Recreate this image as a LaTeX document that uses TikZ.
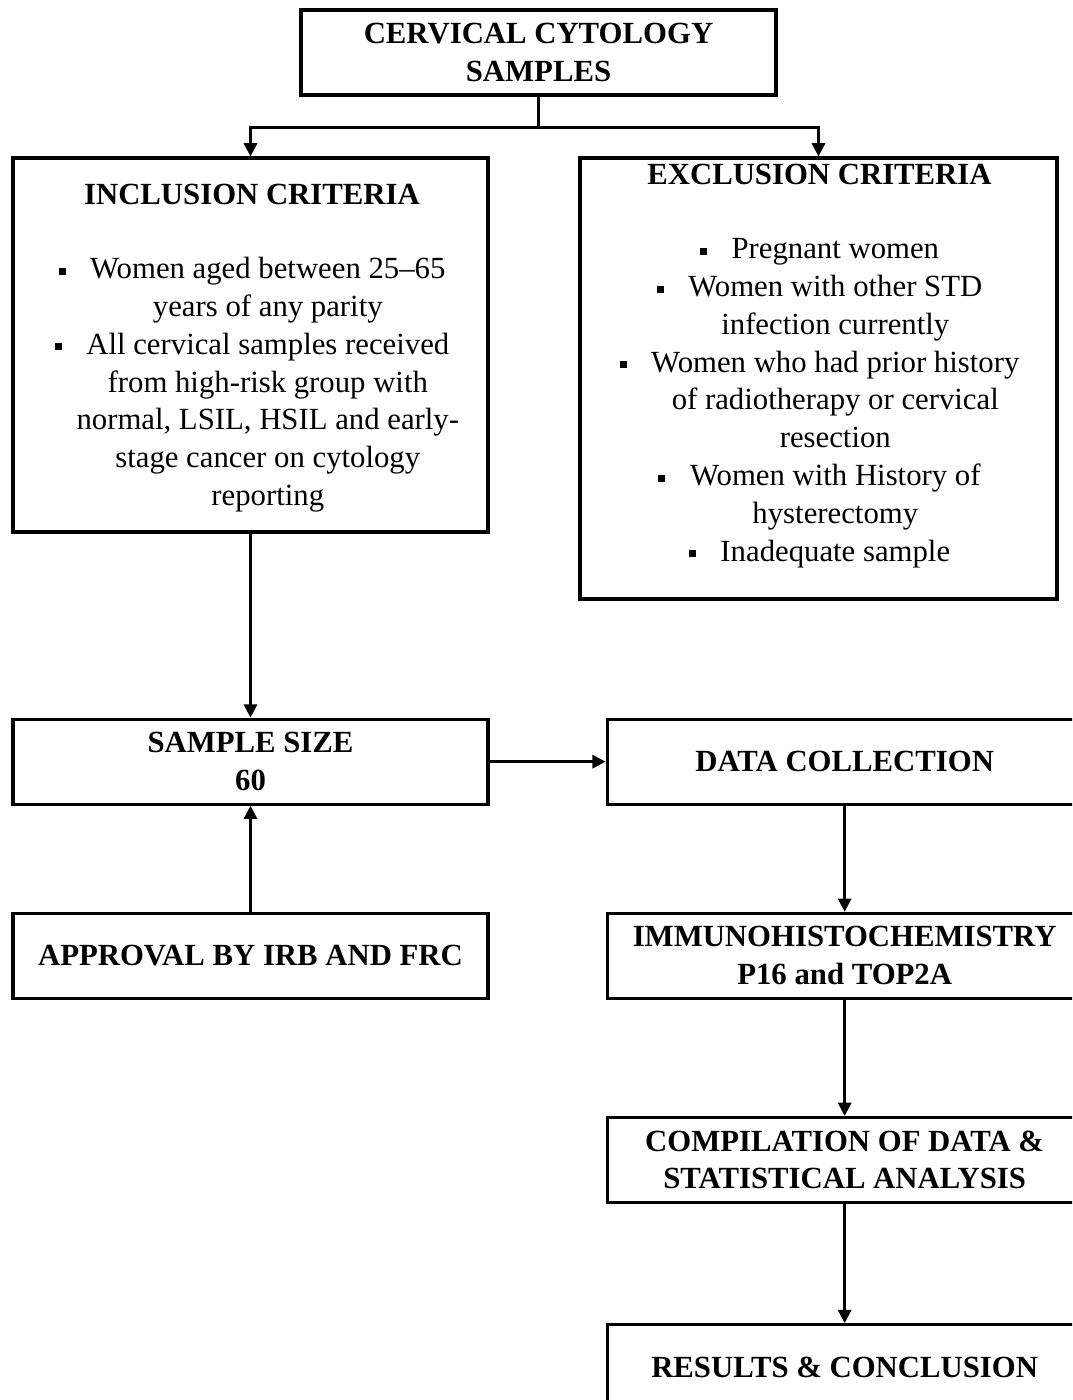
\documentclass[tikz,border=0pt]{standalone}
\usepackage{fontspec}
\setmainfont{Liberation Serif}
\usetikzlibrary{positioning,arrows.meta}
\newcommand{\sqbul}{\rule[0.28ex]{4pt}{4pt}\hspace{14pt}}
\newcommand{\sqgap}{\hphantom{\sqbul}}
\begin{document}
\begin{tikzpicture}[
    box/.style={draw, line width=1.8pt, minimum width=9.5cm, minimum height=1.7cm, inner sep=0pt, align=center, font=\bfseries\fontsize{17.5}{21.5}\selectfont},
    listtxt/.style={inner sep=0pt, align=center, anchor=north, font=\fontsize{17.5}{21.5}\selectfont},
    arr/.style={line width=1.4pt, -{Triangle[length=7.5pt,width=7.5pt]}}]
        \useasboundingbox (0,0) rectangle (21.44,-28);
        \clip (0,0) rectangle (21.44,-28);

        % Bloki
        \node[box] (cyto) at (10.77,-1.05) {CERVICAL CYTOLOGY\\SAMPLES};
        \node[box, minimum height=7.48cm] (incl) at (5.01,-6.9) {};
        \node[box, minimum width=9.54cm, minimum height=8.82cm] (excl) at (16.37,-7.57) {};
        \node[box, below=3.68cm of incl] (size) {SAMPLE SIZE\\60};
        \node[box, right=2.32cm of size] (data) {DATA COLLECTION};
        \node[box, below=2.12cm of size] (irb) {APPROVAL BY IRB AND FRC};
        \node[box, below=2.12cm of data] (ihc) {IMMUNOHISTOCHEMISTRY\\P16 and TOP2A};
        \node[box, below=2.32cm of ihc] (stat) {COMPILATION OF DATA \&\\STATISTICAL ANALYSIS};
        \node[box, below=2.38cm of stat] (res) {RESULTS \& CONCLUSION};

        % Kryteria
        \node[listtxt] (incltxt) at ([xshift=0.03cm, yshift=-0.54cm]incl.north) {\textbf{INCLUSION CRITERIA}\\[21pt]
            \sqbul Women aged between 25–65\\
            \sqgap years of any parity\\
            \sqbul All cervical samples received\\
            \sqgap from high-risk group with\\
            \sqgap normal, LSIL, HSIL and early-\\
            \sqgap stage cancer on cytology\\
            \sqgap reporting};
        \node[listtxt] (excltxt) at ([xshift=0.02cm, yshift=-0.14cm]excl.north) {\textbf{EXCLUSION CRITERIA}\\[21pt]
            \sqbul Pregnant women\\
            \sqbul Women with other STD\\
            \sqgap infection currently\\
            \sqbul Women who had prior history\\
            \sqgap of radiotherapy or cervical\\
            \sqgap resection\\
            \sqbul Women with History of\\
            \sqgap hysterectomy\\
            \sqbul Inadequate sample};

        % Strzałki
        \draw[arr] (cyto.south) -- ++(0,-0.62) -| (incl.north);
        \draw[arr] (cyto.south) -- ++(0,-0.62) -| (excl.north);
        \draw[arr] (incl.south) -- (size.north);
        \draw[arr] (size.east) -- (data.west);
        \draw[arr] (irb.north) -- (size.south);
        \draw[arr] (data.south) -- (ihc.north);
        \draw[arr] (ihc.south) -- (stat.north);
        \draw[arr] (stat.south) -- (res.north);
    \end{tikzpicture}
\end{document}
